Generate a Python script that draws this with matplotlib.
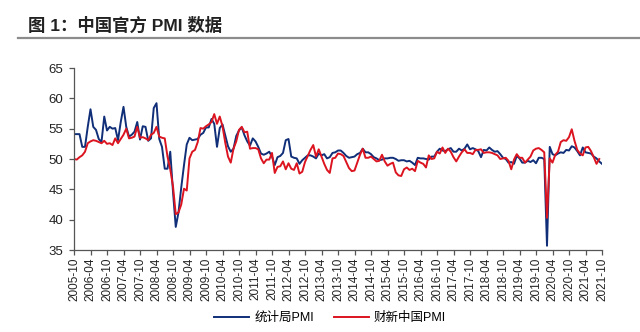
import matplotlib as mpl
import matplotlib.pyplot as plt
import numpy as np
import pandas as pd

mpl.rcParams['font.family'] = ['Liberation Sans', 'Noto Sans CJK SC', 'DejaVu Sans']
mpl.rcParams['axes.linewidth'] = 0.9
mpl.rcParams['xtick.major.width'] = 0.9
mpl.rcParams['ytick.major.width'] = 0.9

# monthly data, 2005-10 .. 2021-10
months = pd.period_range('2005-10', '2021-10', freq='M')

nbs_pmi = [
    54.1, 54.1, 54.1,
    52.0, 52.0, 55.3, 58.2, 55.3, 54.8, 53.3, 52.8, 57.0, 54.7, 55.3, 55.0,
    55.1, 53.1, 56.1, 58.6, 55.3, 53.7, 54.0, 54.5, 56.1, 53.2, 55.4, 55.3,
    53.0, 53.4, 58.4, 59.2, 53.3, 52.0, 48.4, 48.4, 51.2, 44.6, 38.8, 41.2,
    45.3, 49.0, 52.4, 53.5, 53.1, 53.2, 53.3, 54.0, 54.3, 55.2, 55.2, 56.6,
    55.8, 52.0, 55.1, 55.7, 53.9, 52.1, 51.2, 51.7, 53.8, 54.7, 55.2, 53.9,
    52.9, 52.2, 53.4, 52.9, 52.0, 50.9, 50.7, 50.9, 51.2, 50.4, 49.0, 50.3,
    50.5, 51.0, 53.1, 53.3, 50.4, 50.2, 50.1, 49.2, 49.8, 50.2, 50.6, 50.6,
    50.4, 50.1, 50.9, 50.6, 50.8, 50.1, 50.3, 51.0, 51.1, 51.4, 51.4, 51.0,
    50.5, 50.2, 50.3, 50.4, 50.8, 51.0, 51.7, 51.1, 51.1, 50.8, 50.3, 50.1,
    49.8, 49.9, 50.1, 50.1, 50.2, 50.2, 50.0, 49.7, 49.8, 49.8, 49.6, 49.7,
    49.4, 49.0, 50.2, 50.1, 50.1, 50.0, 49.9, 50.4, 50.4, 51.2, 51.7, 51.4,
    51.3, 51.6, 51.8, 51.2, 51.2, 51.7, 51.4, 51.7, 52.4, 51.6, 51.8, 51.6,
    51.3, 50.3, 51.5, 51.4, 51.9, 51.5, 51.2, 51.3, 50.8, 50.2, 50.0, 49.4,
    49.5, 49.2, 50.5, 50.1, 49.4, 49.4, 49.7, 49.5, 49.8, 49.3, 50.2, 50.2,
    50.0, 35.7, 52.0, 50.8, 50.6, 50.9, 51.1, 51.0, 51.5, 51.4, 52.1, 51.9,
    51.3, 50.6, 51.9, 51.1, 51.0, 50.9, 50.4, 50.1, 49.6, 49.2,
]

# Caixin (HSBC before 2015), ends 2021-09
caixin_pmi = [
    50.0, 49.9, 50.3,
    50.6, 51.2, 52.6, 52.9, 53.1, 53.0, 52.8, 52.6, 53.0, 52.5, 52.6, 52.3,
    53.4, 52.6, 53.3, 54.0, 55.0, 53.4, 53.5, 53.7, 55.3, 53.5, 53.6, 53.4,
    53.1, 54.0, 54.3, 55.3, 53.7, 53.5, 53.4, 50.4, 48.3, 45.5, 40.9, 41.2,
    42.5, 45.1, 44.8, 50.1, 51.2, 51.5, 52.8, 55.1, 55.0, 55.4, 55.7, 56.1,
    57.4, 55.8, 57.0, 55.4, 52.7, 50.4, 49.4, 51.7, 52.9, 54.8, 55.3, 54.4,
    54.5, 51.7, 51.8, 51.8, 51.6, 50.1, 49.3, 49.9, 49.9, 51.0, 47.7, 48.7,
    48.8, 49.6, 48.3, 49.3, 48.4, 48.2, 49.3, 47.6, 47.9, 49.5, 50.5, 51.5,
    52.3, 50.4, 51.6, 50.4, 49.2, 48.2, 47.7, 50.1, 50.2, 50.9, 50.8, 50.5,
    49.5, 48.5, 48.0, 48.1, 49.4, 50.7, 51.7, 50.2, 50.2, 50.4, 50.0, 49.6,
    49.7, 50.7, 49.6, 48.9, 49.2, 49.4, 47.8, 47.3, 47.2, 48.3, 48.6, 48.2,
    48.4, 48.0, 49.7, 49.4, 49.2, 48.6, 50.6, 50.0, 50.1, 51.2, 50.9, 51.9,
    51.0, 51.7, 51.2, 50.3, 49.6, 50.4, 51.1, 51.6, 51.0, 51.0, 50.8, 51.5,
    51.5, 51.6, 51.0, 51.1, 51.1, 51.0, 50.8, 50.6, 50.0, 50.1, 50.2, 49.7,
    48.3, 49.9, 50.8, 50.2, 50.2, 49.4, 49.9, 50.4, 51.4, 51.7, 51.8, 51.5,
    51.1, 40.3, 50.1, 49.4, 50.7, 51.2, 52.8, 53.1, 53.0, 53.6, 54.9, 53.0,
    51.5, 50.9, 50.6, 51.9, 52.0, 51.3, 50.3, 49.2, 50.0,
]

labels = [p.strftime('%Y-%m') for p in months]
x = np.arange(len(months))

fig = plt.figure(figsize=(6.4, 3.32), dpi=100)
ax = fig.add_axes([74 / 640, 1 - 250 / 332, 528 / 640, 182 / 332])

ax.plot(x, nbs_pmi, color='#102F78', lw=1.4, label='统计局PMI')
ax.plot(x[:len(caixin_pmi)], caixin_pmi, color='#DC1420', lw=1.4, label='财新中国PMI')

ax.set_xlim(0, len(months) - 1)
ax.set_ylim(35, 65)
ax.set_yticks(np.arange(35, 66, 5))
ax.set_xticks(x[::6])
ax.set_xticklabels(labels[::6], rotation=90)
ax.tick_params(axis='x', labelsize=8.5, length=3.5, colors='#555555', labelcolor='#222222', pad=2)
ax.tick_params(axis='y', labelsize=9.5, length=3.5, colors='#555555', labelcolor='#222222', pad=4)

for side in ('top', 'right'):
    ax.spines[side].set_visible(False)
for side in ('left', 'bottom'):
    ax.spines[side].set_color('#555555')

fig.legend(loc='center', bbox_to_anchor=(0.516, 0.042), ncol=2, frameon=False,
           fontsize=9, handlelength=2.8, columnspacing=1.6, handletextpad=0.4)

# title and rule
fig.text(28 / 640, 1 - 25 / 332, '图 1：中国官方 PMI 数据', fontsize=12.5, fontweight='bold',
         color='#222222', va='center', ha='left')
fig.add_artist(plt.Line2D([18 / 640, 1.0], [1 - 37.5 / 332] * 2, color='#8C8C8C', lw=1.6))

fig.savefig('out.png', dpi=100, facecolor='white')
